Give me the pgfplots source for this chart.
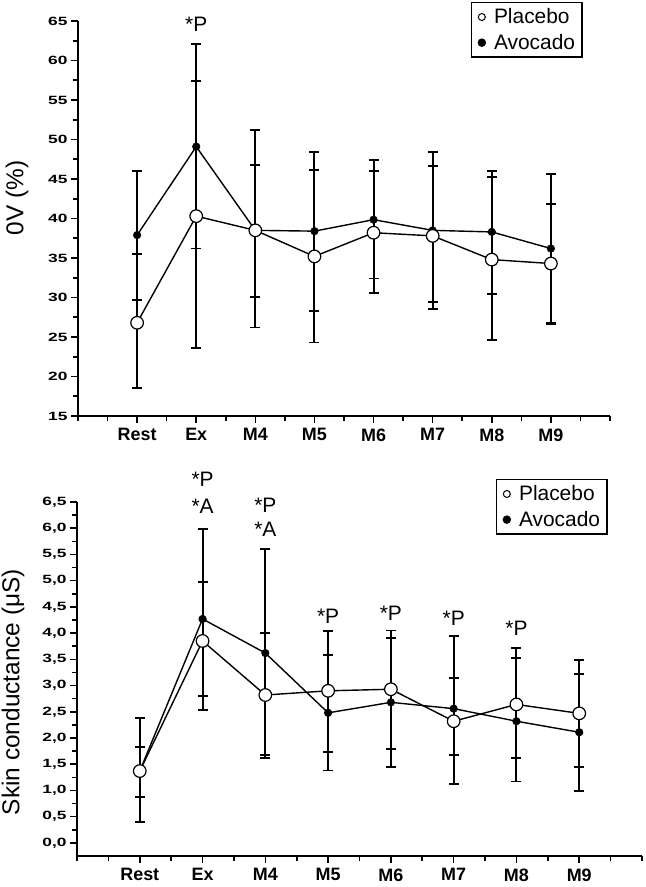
\documentclass[border=0pt]{standalone}
\usepackage{fontspec}
\setmainfont{Liberation Sans}
\newfontfamily\tickfont[FakeStretch=1.45]{Liberation Sans}
\usepackage{pgfplots}
\pgfplotsset{compat=1.18}
\usepackage{pgfplotstable}

% columns: x, mean, error plus, error minus
\pgfplotstableread{
x y ep em
1 37.9 8.1 8.2
2 49.1 13.0 12.9
3 38.5 8.3 8.4
4 38.4 10.0 10.1
5 39.85 7.55 7.45
6 38.5 9.9 10.0
7 38.3 7.7 7.9
8 36.2 9.4 9.5
}\topavo
\pgfplotstableread{
x y ep em
1 26.8 8.7 8.3
2 40.3 17.15 16.7
3 38.5 12.7 12.3
4 35.2 10.9 10.9
5 38.2 7.8 7.6
6 37.8 8.9 8.4
7 34.8 10.5 10.2
8 34.3 7.5 7.5
}\topplac
\pgfplotstableread{
x y ep em
1 1.37 0.45 0.49
2 4.27 1.72 1.73
3 3.62 1.98 2.00
4 2.48 1.11 1.10
5 2.68 1.22 1.23
6 2.56 1.39 1.43
7 2.32 1.20 1.15
8 2.11 1.11 1.12
}\botavo
\pgfplotstableread{
x y ep em
1 1.37 1.02 0.98
2 3.85 1.12 1.05
3 2.82 1.19 1.14
4 2.90 1.14 1.16
5 2.93 1.12 1.14
6 2.32 0.82 0.64
7 2.64 1.07 1.02
8 2.47 1.02 1.02
}\botplac

\pgfplotsset{
  panel/.style={
    scale only axis, xmin=0, xmax=9,
    axis x line=bottom, axis y line=left,
    axis line style={-, line width=1.6bp},
    xtick={1,...,8}, xticklabels={Rest,Ex,M4,M5,M6,M7,M8,M9},
    minor xtick={0,0.5,...,9},
    tick align=outside,
    major tick length=7bp, minor tick length=5bp,
    tick style={black, line width=1.6bp},
    x tick label style={font=\bfseries\fontsize{18}{20}\selectfont, yshift=-2bp},
    y tick label style={font=\tickfont\bfseries\fontsize{12}{13}\selectfont},
    /pgf/number format/assume math mode=true,
    clip=false,
    legend cell align=left,
    legend style={draw=black, line width=1.3bp, font=\fontsize{21}{24}\selectfont,
      inner xsep=6bp, inner ysep=5bp, anchor=north west, row sep=7bp,
      nodes={inner sep=1bp},
      /tikz/every odd column/.append style={column sep=7bp},
      /tikz/every even column/.append style={column sep=0bp}},
  },
  ebars/.style={forget plot, draw=none, mark=none,
    /pgfplots/error bars/y dir=both,
    /pgfplots/error bars/y explicit,
    /pgfplots/error bars/error bar style={draw=black, solid, line width=1.9bp},
    /pgfplots/error bars/error mark options={draw=black, rotate=90, mark size=5bp, line width=1.9bp}},
  avo/.style={black, line width=1.4bp, mark=*, mark size=3.8bp,
    mark options={solid, fill=black, line width=0.5bp}},
  plac/.style={black, line width=1.4bp, mark=*, mark size=6.3bp,
    mark options={solid, fill=white, line width=1.2bp}},
  plegend/.style={legend image code/.code={\draw[line width=1bp, fill=white] (0,0) circle (3.5bp);}},
  alegend/.style={legend image code/.code={\fill[black] (0,0) circle (3.5bp);}},
}

\begin{document}
\begin{tikzpicture}
\path[use as bounding box] (0,0) rectangle (646bp,-887bp);

% upper panel
\begin{axis}[panel,
  at={(78bp,-416bp)}, anchor=south west,
  width=532bp, height=395bp,
  ymin=15, ymax=65, ytick={15,20,...,65}, minor y tick num=1,
  ylabel={0V (\%)},
  every axis y label/.style={at={(axis description cs:-0.1147,0.552)}, rotate=90, anchor=center, font=\fontsize{24.5}{26}\selectfont},
  legend style={at={(axis description cs:0.7387,1.048)}},
  reverse legend,
  ]
\addplot[ebars] table[x=x, y=y, y error plus=ep, y error minus=em] {\topavo};
\addplot[ebars] table[x=x, y=y, y error plus=ep, y error minus=em] {\topplac};
\addplot[avo, alegend] table[x=x, y=y] {\topavo};
\addplot[plac, plegend] table[x=x, y=y] {\topplac};
\legend{Avocado, Placebo}
\node[font=\fontsize{21}{22}\selectfont] at (axis cs:2,64.6) {*P};
\end{axis}

% lower panel
\begin{axis}[panel,
  at={(77bp,-856bp)}, anchor=south west,
  width=565bp, height=354bp,
  ymin=-0.25, ymax=6.5, ytick={0,0.5,...,6.5}, minor y tick num=1,
  yticklabel style={/pgf/number format/.cd, use comma, fixed, fixed zerofill, precision=1},
  ylabel={Skin conductance (μS)},
  every axis y label/.style={at={(axis description cs:-0.1133,0.463)}, rotate=90, anchor=center, font=\fontsize{24.5}{26}\selectfont},
  legend style={at={(axis description cs:0.7416,1.065)}},
  reverse legend,
  ]
\addplot[ebars] table[x=x, y=y, y error plus=ep, y error minus=em] {\botavo};
\addplot[ebars] table[x=x, y=y, y error plus=ep, y error minus=em] {\botplac};
\addplot[avo, alegend] table[x=x, y=y] {\botavo};
\addplot[plac, plegend] table[x=x, y=y] {\botplac};
\legend{Avocado, Placebo}
\begin{scope}[every node/.style={font=\fontsize{21}{22}\selectfont}]
\node at (axis cs:2,6.94) {*P};
\node at (axis cs:2,6.42) {*A};
\node at (axis cs:3,6.44) {*P};
\node at (axis cs:3,5.97) {*A};
\node at (axis cs:4,4.32) {*P};
\node at (axis cs:5,4.37) {*P};
\node at (axis cs:6,4.29) {*P};
\node at (axis cs:7,4.10) {*P};
\end{scope}
\end{axis}
\end{tikzpicture}
\end{document}
